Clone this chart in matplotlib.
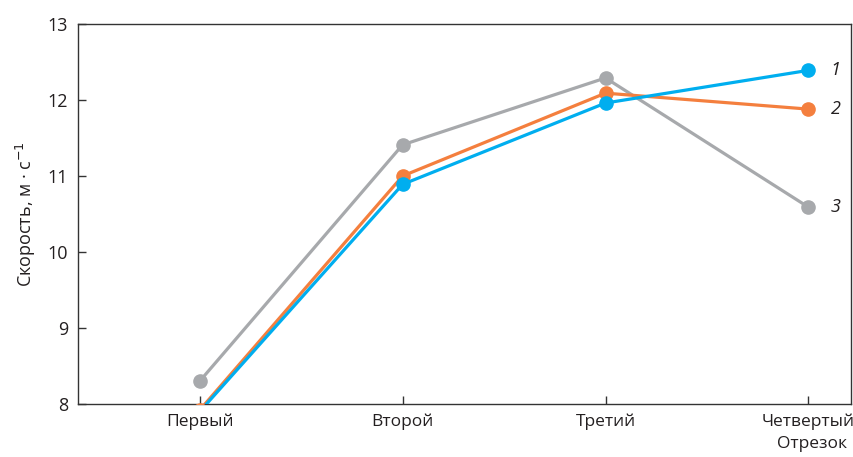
import numpy as np
import matplotlib
matplotlib.use('Agg')
import matplotlib.pyplot as plt

plt.rcParams['font.family'] = ['Open Sans', 'DejaVu Sans']

categories = ['Первый', 'Второй', 'Третий', 'Четвертый']
speed_1 = [7.9, 10.89, 11.96, 12.39]
speed_2 = [7.92, 11.0, 12.09, 11.88]
speed_3 = [8.3, 11.41, 12.29, 10.59]
series_names = ['1', '2', '3']
colors = ['#00AEEF', '#F47F3E', '#A7A9AC']

fig = plt.figure(figsize=(8.54, 4.57), dpi=100)
ax = fig.add_axes([0.0913, 0.116, 0.9052, 0.8315])

x = np.arange(len(categories))
# grey first so blue/orange sit on top like the original
for vals, c, name in zip([speed_3, speed_2, speed_1], colors[::-1], series_names[::-1]):
    ax.plot(x, vals, color=c, lw=2.3, marker='o', ms=9.5, clip_on=True, zorder=3)
    ax.text(x[-1] + 0.11, vals[-1], name, fontsize=13, style='italic',
            va='center', ha='left', color='#231f20')

ax.set_xlim(-0.6, 3.21)
ax.set_ylim(8, 13)
ax.set_yticks(np.arange(8, 14, 1))
ax.set_xticks(x)
ax.set_xticklabels(categories)

ax.tick_params(axis='both', direction='in', length=6, width=1, color='#333333',
               labelsize=13, labelcolor='#231f20')
ax.tick_params(axis='x', pad=7, labelsize=12.5)
ax.tick_params(axis='y', pad=7)
for s in ax.spines.values():
    s.set_color('#333333')
    s.set_linewidth(1)

ax.set_ylabel('Скорость, м · с$^{-1}$', fontsize=13, color='#231f20', labelpad=7)
ax.annotate('Отрезок', xy=(1.0, 0), xycoords='axes fraction', xytext=(-3, -23),
            textcoords='offset points', ha='right', va='top', fontsize=12.5, color='#231f20')

fig.savefig('out.png', dpi=100)
